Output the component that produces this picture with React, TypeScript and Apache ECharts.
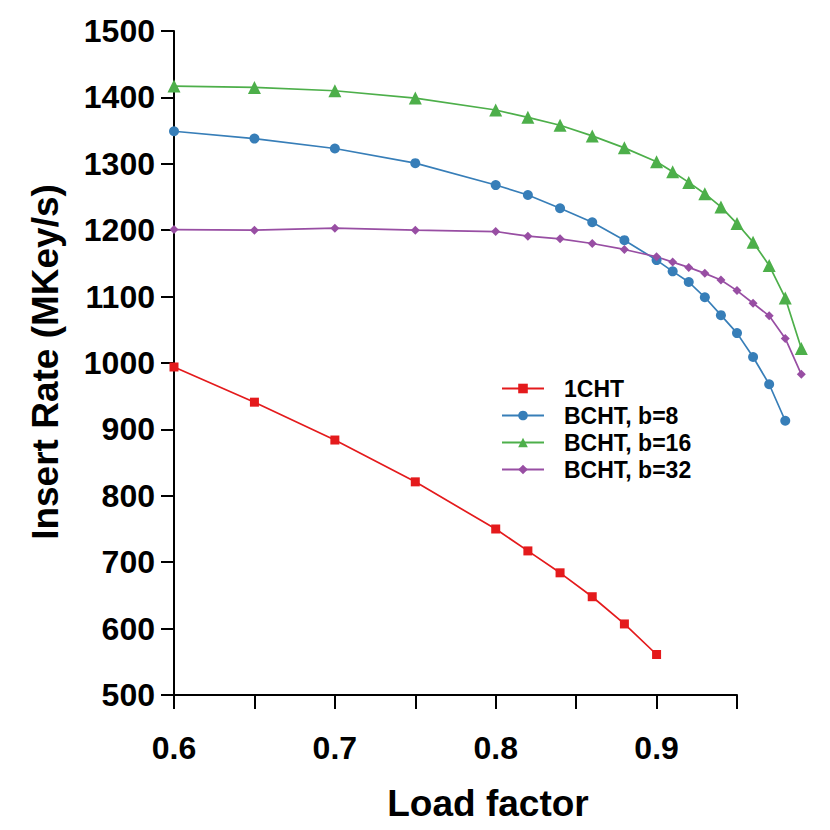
import React, { useEffect, useRef } from "react";
import * as echarts from "echarts";

const xShort = [0.6, 0.65, 0.7, 0.75, 0.8, 0.82, 0.84, 0.86, 0.88, 0.9];
const xLong = [0.6, 0.65, 0.7, 0.75, 0.8, 0.82, 0.84, 0.86, 0.88, 0.9, 0.91, 0.92, 0.93, 0.94, 0.95, 0.96, 0.97, 0.98, 0.99];

const cht1 = [994, 941, 884, 821, 750, 717, 684, 648, 607, 561];
const bchtB8 = [1349, 1338, 1323, 1301, 1268, 1253, 1233, 1212, 1185, 1155, 1138, 1122, 1099, 1072, 1045, 1009, 968, 913];
const bchtB16 = [1417, 1415, 1410, 1399, 1381, 1370, 1358, 1342, 1324, 1303, 1288, 1272, 1255, 1235, 1210, 1182, 1147, 1098, 1022];
const bchtB32 = [1201, 1200, 1203, 1200, 1198, 1191, 1187, 1180, 1171, 1160, 1152, 1144, 1135, 1125, 1109, 1090, 1071, 1037, 983];

const seriesNames = ["1CHT", "BCHT, b=8", "BCHT, b=16", "BCHT, b=32"];
const colors = ["#e41a1c", "#377eb8", "#4daf4a", "#984ea3"];

const xAxisTitle = "Load factor";
const yAxisTitle = "Insert Rate (MKey/s)";

const FONT = "'Liberation Sans', Arial, Helvetica, sans-serif";

// layout
const LEFT = 174;
const TOP = 31;
const BOTTOM = 135;
const AXIS_RIGHT_PX = 737; // pixel where x = 0.95
const X_MIN = 0.6;
const X_AXIS_MAX = 0.95;
const X_DATA_MAX = 1.0;

function pairs(xs: number[], ys: number[]) {
  return ys.map((y, i) => [xs[i], y]);
}

export default function App() {
  const ref = useRef<HTMLDivElement>(null);
  useEffect(() => {
    if (!ref.current) return;
    const chart = echarts.init(ref.current, undefined, { renderer: "svg" });
    const pxPerUnit = (AXIS_RIGHT_PX - LEFT) / (X_AXIS_MAX - X_MIN);
    const dataRight = 830 - LEFT - pxPerUnit * (X_DATA_MAX - X_MIN);
    const mk = (i: number, data: number[][], symbol: string, size: number) => ({
      name: seriesNames[i],
      type: "line",
      xAxisIndex: 1,
      yAxisIndex: 1,
      data,
      symbol,
      symbolSize: size,
      clip: false,
      lineStyle: { color: colors[i], width: 1.7 },
      itemStyle: { color: colors[i] },
    });
    const labelStyle = {
      fontFamily: FONT,
      fontWeight: "bold",
      fontSize: 32,
      color: "#000",
    };
    chart.setOption({
      animation: false,
      backgroundColor: "#ffffff",
      grid: [
        { left: LEFT, right: 830 - AXIS_RIGHT_PX, top: TOP, bottom: BOTTOM, containLabel: false },
        { left: LEFT, right: dataRight, top: TOP, bottom: BOTTOM, containLabel: false },
      ],
      legend: {
        orient: "vertical",
        left: 501,
        top: 377,
        padding: 0,
        itemWidth: 42,
        itemHeight: 12,
        itemGap: 4,
        data: seriesNames,
        textStyle: {
          fontFamily: FONT,
          fontWeight: "bold",
          fontSize: 23,
          color: "#000",
          padding: [0, 0, 0, 15],
        },
      },
      xAxis: [
        {
          type: "value",
          gridIndex: 0,
          min: X_MIN,
          max: X_AXIS_MAX,
          interval: 0.05,
          splitLine: { show: false },
          axisLine: { show: true, lineStyle: { color: "#000", width: 2 } },
          axisTick: { show: true, inside: false, length: 14, lineStyle: { color: "#000", width: 2 } },
          axisLabel: {
            ...labelStyle,
            margin: 37,
            formatter: (v: number) => (Math.round(v * 100) % 10 === 0 ? v.toFixed(1) : ""),
          },
        },
        {
          type: "value",
          gridIndex: 1,
          min: X_MIN,
          max: X_DATA_MAX,
          show: false,
        },
      ],
      yAxis: [
        {
          type: "value",
          gridIndex: 0,
          min: 500,
          max: 1500,
          interval: 100,
          splitLine: { show: false },
          axisLine: { show: true, lineStyle: { color: "#000", width: 2 } },
          axisTick: { show: true, inside: false, length: 13, lineStyle: { color: "#000", width: 2 } },
          axisLabel: {
            ...labelStyle,
            margin: 19,
            formatter: (v: number) => String(v),
          },
        },
        {
          type: "value",
          gridIndex: 1,
          min: 500,
          max: 1500,
          show: false,
        },
      ],
      graphic: [
        {
          type: "text",
          x: 488,
          y: 803,
          style: {
            text: xAxisTitle,
            fontFamily: FONT,
            fontWeight: "bold",
            fontSize: 37,
            fill: "#000",
            textAlign: "center",
            textVerticalAlign: "middle",
          },
        },
        {
          type: "text",
          x: 45,
          y: 362,
          rotation: Math.PI / 2,
          style: {
            text: yAxisTitle,
            fontFamily: FONT,
            fontWeight: "bold",
            fontSize: 37,
            fill: "#000",
            textAlign: "center",
            textVerticalAlign: "middle",
          },
        },
      ],
      series: [
        mk(0, pairs(xShort, cht1), "rect", 9),
        mk(1, pairs(xLong, bchtB8), "circle", 10),
        mk(2, pairs(xLong, bchtB16), "triangle", 13),
        mk(3, pairs(xLong, bchtB32), "diamond", 9),
      ],
    });
    return () => chart.dispose();
  }, []);
  return <div ref={ref} style={{ position: "fixed", left: 0, top: 0, width: 830, height: 830 }} />;
}
